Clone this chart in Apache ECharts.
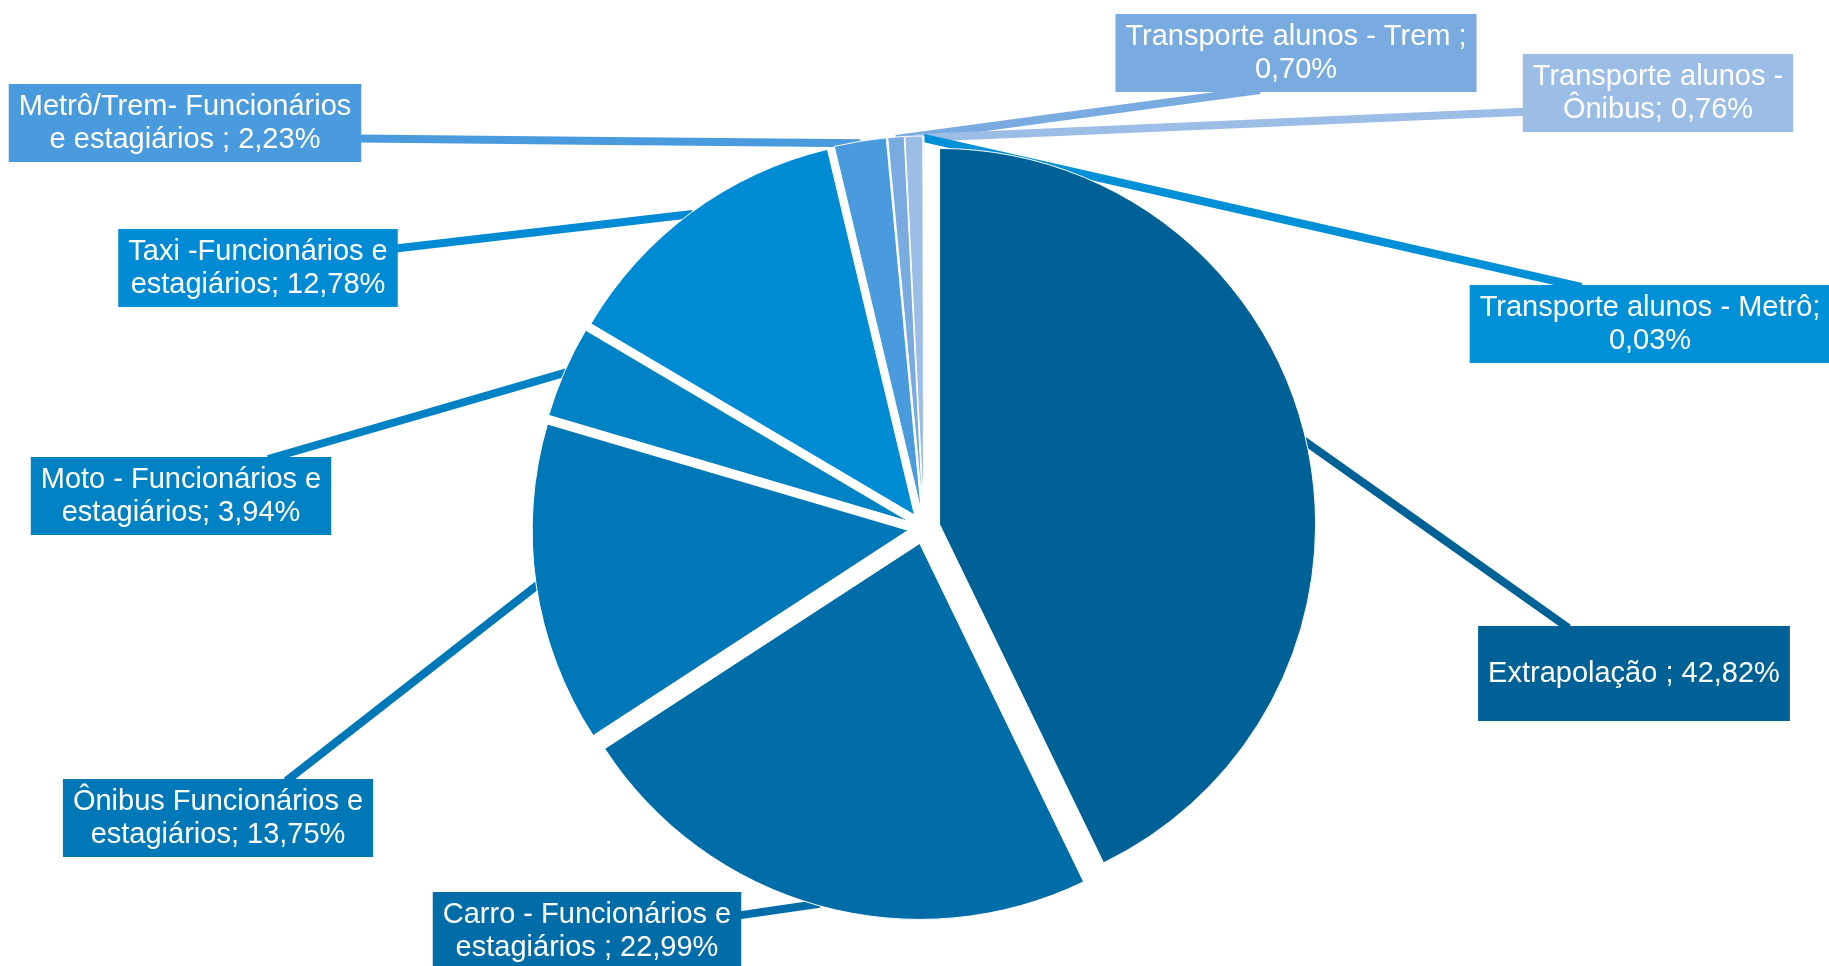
<!DOCTYPE html>
<html>
<head>
<meta charset="utf-8">
<script src="https://cdn.jsdelivr.net/npm/echarts@6/dist/echarts.min.js"></script>
<style>
html, body { margin: 0; padding: 0; background: #fff; }
#chart { width: 1829px; height: 966px; }
</style>
</head>
<body>
<div id="chart"></div>
<script>
// categories, clockwise from 12 o'clock
var categories = [
    'Extrapolação ',
    'Carro - Funcionários e\nestagiários ',
    'Ônibus Funcionários e\nestagiários',
    'Moto - Funcionários e\nestagiários',
    'Taxi -Funcionários e\nestagiários',
    'Metrô/Trem- Funcionários\ne estagiários ',
    'Transporte alunos - Trem ',
    'Transporte alunos -\nÔnibus',
    'Transporte alunos - Metrô'
];
var values = [42.82, 22.99, 13.75, 3.94, 12.78, 2.23, 0.70, 0.76, 0.03];
// break the line before the percentage?
var breakBeforeValue = [false, false, false, false, false, false, true, false, true];

var colors = ['#006196', '#006ca8', '#0078b8', '#0082c4', '#008bd4',
              '#4a9ade', '#7aabe0', '#9bbde6', '#0090d8'];

// label boxes: centre x, top y, vertical padding
var boxes = [
    [1634, 626, 31],
    [587, 892, 6],
    [218, 779, 6],
    [181, 457, 6],
    [258, 229, 6],
    [185, 84, 6],
    [1296, 14, 6],
    [1658, 54, 6],
    [1650, 285, 6]
];
// where the callout pointer meets its box: side, fraction along that side
var pointerSide = [
    ['top', 0.29], ['right', 0.3], ['top', 0.72], ['top', 0.79], ['right', 0.25],
    ['right', 0.7], ['bottom', 0.4], ['left', 0.74], ['top', 0.31]
];

var chart = echarts.init(document.getElementById('chart'));

function fmt(p) {
    var i = p.dataIndex;
    return p.name + ';' + (breakBeforeValue[i] ? '\n' : ' ') +
        values[i].toFixed(2).replace('.', ',') + '%';
}

var pieCenter = [924, 528];
var pieRadius = 376;
var explode = 16;

chart.setOption({
    animation: false,
    series: [{
        // exploded slices
        type: 'pie',
        center: pieCenter,
        radius: pieRadius,
        startAngle: 90,
        selectedMode: 'multiple',
        selectedOffset: explode,
        itemStyle: { borderColor: '#fff', borderWidth: 1 },
        label: { show: false },
        labelLine: { show: false },
        emphasis: { disabled: true },
        select: { itemStyle: { borderColor: '#fff', borderWidth: 1 } },
        data: values.map(function (v, i) {
            return { name: categories[i], value: v, selected: true, itemStyle: { color: colors[i] } };
        })
    }, {
        // callout labels
        type: 'pie',
        center: pieCenter,
        radius: pieRadius,
        startAngle: 90,
        silent: true,
        avoidLabelOverlap: false,
        itemStyle: { color: 'rgba(0,0,0,0)' },
        label: {
            show: true,
            position: 'outside',
            color: '#fff',
            fontFamily: 'Liberation Sans',
            fontSize: 29,
            lineHeight: 33,
            align: 'center',
            formatter: fmt
        },
        labelLine: {
            show: true,
            length: 10,
            length2: 0,
            lineStyle: { width: 8 }
        },
        labelLayout: function (p) {
            var i = p.dataIndex;
            var b = boxes[i];
            var w = p.labelRect.width, h = p.labelRect.height;
            var left = b[0] - w / 2, top = b[1];
            var s = pointerSide[i], end;
            if (s[0] === 'top') end = [left + w * s[1], top + 2];
            else if (s[0] === 'bottom') end = [left + w * s[1], top + h - 2];
            else if (s[0] === 'left') end = [left + 2, top + h * s[1]];
            else end = [left + w - 2, top + h * s[1]];
            var out = { x: b[0], y: b[1], align: 'center', verticalAlign: 'top' };
            if (p.labelLinePoints) {
                var p0 = p.labelLinePoints[0];
                // push the start out to the exploded slice's edge
                var dx = p0[0] - pieCenter[0], dy = p0[1] - pieCenter[1];
                var d = Math.sqrt(dx * dx + dy * dy) || 1;
                var start = [p0[0] + dx / d * (explode - 2), p0[1] + dy / d * (explode - 2)];
                out.labelLinePoints = [start, [(start[0] + end[0]) / 2, (start[1] + end[1]) / 2], end];
            }
            return out;
        },
        emphasis: { disabled: true },
        data: values.map(function (v, i) {
            return {
                name: categories[i],
                value: v,
                labelLine: { lineStyle: { color: colors[i] } },
                label: {
                    backgroundColor: colors[i],
                    padding: [boxes[i][2], 10, boxes[i][2], 10]
                }
            };
        })
    }]
});
</script>
</body>
</html>
